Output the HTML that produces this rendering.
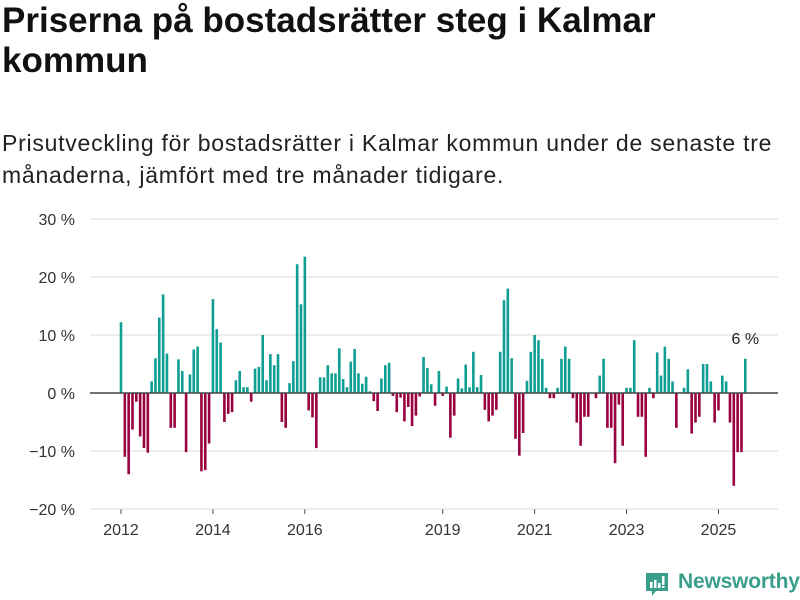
<!DOCTYPE html>
<html><head><meta charset="utf-8"><style>
body{margin:0;background:#fff;width:800px;height:600px;overflow:hidden;font-family:"Liberation Sans",sans-serif;position:relative}
h1{position:absolute;left:2px;top:1px;margin:0;font-size:35px;line-height:40px;font-weight:bold;color:#111;width:700px;letter-spacing:0}
p{position:absolute;left:2px;top:127px;margin:0;font-size:23px;line-height:32px;color:#222;width:795px;letter-spacing:0.75px}
svg{position:absolute;left:0;top:0}
</style></head><body>
<h1>Priserna på bostadsrätter steg i Kalmar kommun</h1>
<p>Prisutveckling för bostadsrätter i Kalmar kommun under de senaste tre månaderna, jämfört med tre månader tidigare.</p>
<svg id="chart" width="800" height="600"></svg>
<div style="position:absolute;left:645px;top:570px;height:28px">
<svg width="24" height="26" viewBox="0 0 24 26" style="position:absolute;left:0;top:2px"><path d="M1 1h22v18H11l-4 5v-5H1z" fill="#3a9e8c"/><rect x="5" y="10" width="2.5" height="6" fill="#fff"/><rect x="9" y="8" width="2.5" height="8" fill="#fff"/><rect x="13" y="11" width="2.5" height="5" fill="#fff"/><rect x="17" y="4" width="2.5" height="9" fill="#fff"/><rect x="17" y="14" width="2.5" height="2" fill="#fff"/></svg>
<span style="position:absolute;left:33px;top:0;font-size:21px;font-weight:bold;color:#3a9e8c;letter-spacing:-0.2px">Newsworthy</span></div>
<script>
const values = [12.2,-11,-14,-6.3,-1.5,-7.5,-9.5,-10.3,2,6,13,17,6.8,-6,-6,5.8,3.8,-10.2,3.2,7.5,8,-13.5,-13.3,-8.7,16.2,11,8.7,-5,-3.6,-3.3,2.2,3.8,1,1,-1.5,4.2,4.5,10,2.2,6.7,4.8,6.7,-5,-6,1.7,5.5,22.2,15.3,23.5,-3,-4.2,-9.5,2.7,2.7,4.8,
3.4,3.4,7.7,2.4,1,5.4,7.6,3.4,1.6,2.8,0.3,-1.4,-3.1,2.5,4.8,5.2,
-0.5,-3.3,-0.8,-4.9,-2.4,-5.7,-3.9,-0.6,6.2,4.3,1.5,-2.2,3.8,-0.5,1.1,-7.7,-3.9,2.5,0.8,4.9,1,7.1,1,3.1,-2.9,-4.9,-3.9,-2.9,7.1,16,18,6,-7.9,-10.8,-6.9,2.1,
7.1,10,9.1,5.9,0.9,-0.9,-0.9,0.9,5.9,8,5.9,-0.9,-5.1,-9.1,-4.1,-4.1,0,-0.9,3,5.9,-6,-6,-12.1,-2,-9.1,0.9,0.9,9.1,-4.1,-4.1,-11,0.9,-0.9,7,3,8,5.9,2,-6,0,0.9,4.1,-7,-5.1,-4.1,5,5,2,-5.1,-3,3,2,-5.1,-16,-10.2,-10.2,5.9];
const yTicks = [30,20,10,0,-10,-20];
const xYears = [2012,2014,2016,2019,2021,2023,2025];
const lastLabel = "6 %";
const NS="http://www.w3.org/2000/svg", svg=document.getElementById('chart');
const y = v => 393 - v*5.8;
const x = i => 121 + i*3.83;
function el(t,a){const e=document.createElementNS(NS,t);for(const k in a)e.setAttribute(k,a[k]);svg.appendChild(e);return e;}
yTicks.forEach(t=>{
  const g=el('line',{x1:90,x2:778,y1:y(t),y2:y(t),stroke:'#ddd','stroke-width':1});
  
  
  const tx=el('text',{x:75,y:y(t)+6,'text-anchor':'end','font-size':16,fill:'#333','font-family':'Liberation Sans,sans-serif'});
  tx.textContent=(t<0?'\u2212'+(-t):t)+' %';
  
  
});
values.forEach((v,i)=>{
  if(v===0)return;
  const r=el('rect',{x:x(i)-1.3,width:2.6,y:Math.min(y(v),393),height:Math.abs(y(v)-393),fill:v>0?'#0f9e94':'#98003f'});
  
  
});
const z=el('line',{x1:90,x2:778,y1:393,y2:393,stroke:'#444','stroke-width':1.5});


xYears.forEach(yr=>{
  const i=(yr-2012)*12;
  const tk=el('line',{x1:x(i),x2:x(i),y1:509,y2:514,stroke:'#444'});
  
  
  const tx=el('text',{x:x(i),y:535,'text-anchor':'middle','font-size':16,fill:'#333','font-family':'Liberation Sans,sans-serif'});
  tx.textContent=yr;
  
  
});
const ax=el('line',{x1:90,x2:778,y1:509,y2:509,stroke:'#ddd'});


const li=values.length-1;
const lab=el('text',{x:x(li),y:y(values[li])-15,'text-anchor':'middle','font-size':16,fill:'#222','font-family':'Liberation Sans,sans-serif'});
lab.textContent=lastLabel;


</script>
</body></html>
